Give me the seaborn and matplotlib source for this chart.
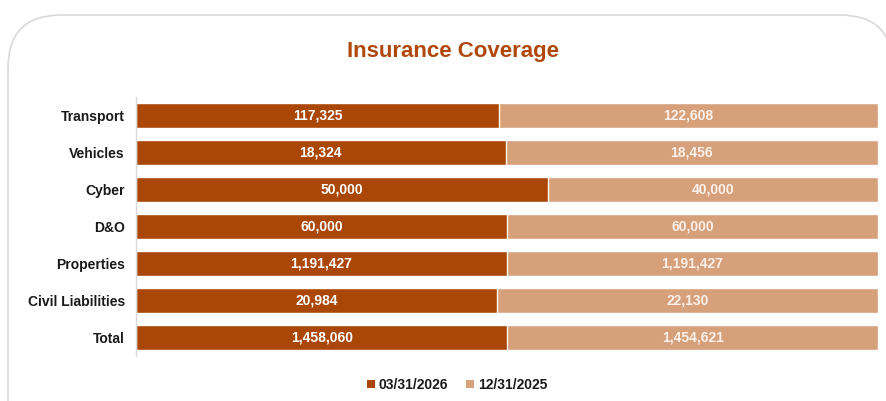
import matplotlib
matplotlib.use("Agg")
import matplotlib.pyplot as plt
from matplotlib.patches import FancyBboxPatch, Patch
import numpy as np
import pandas as pd
import seaborn as sns

categories = ["Transport", "Vehicles", "Cyber", "D&O", "Properties", "Civil Liabilities", "Total"]
mar_2026 = [117325, 18324, 50000, 60000, 1191427, 20984, 1458060]
dec_2025 = [122608, 18456, 40000, 60000, 1191427, 22130, 1454621]
series_names = ["03/31/2026", "12/31/2025"]

DARK = "#AA4707"
LIGHT = "#D6A07A"
TITLE_C = "#B0480C"

sns.set_theme(style="white")
plt.rcParams["font.family"] = ["Liberation Sans", "DejaVu Sans"]

a = np.array(mar_2026, dtype=float)
b = np.array(dec_2025, dtype=float)
share_a = a / (a + b)

df = pd.DataFrame({"category": categories, "full": np.ones(len(categories)), "share": share_a})

fig = plt.figure(figsize=(8.86, 4.01), dpi=100)
fig.patch.set_facecolor("white")

# rounded card behind the chart
card = FancyBboxPatch((8 / 886, -0.2), 885 / 886, 1 - 15 / 401 + 0.2,
                      boxstyle="round,pad=0,rounding_size=0.06",
                      transform=fig.transFigure, facecolor="white",
                      edgecolor="#D9D9D9", linewidth=1.2, zorder=-5,
                      mutation_aspect=886 / 401)
fig.patches.append(card)

ax = fig.add_axes([136 / 886, 1 - 356 / 401, (878 - 136) / 886, 259 / 401])
ax.set_facecolor("none")
ax.set_zorder(2)

# 100% stacked bars: full-width light bar with the dark share on top
sns.barplot(data=df, y="category", x="full", color=LIGHT, orient="h",
            width=0.68, ax=ax, saturation=1)
sns.barplot(data=df, y="category", x="share", color=DARK, orient="h",
            width=0.68, ax=ax, saturation=1)

ax.set_xlim(0, 1)
ax.set_ylim(6.5, -0.5)
ax.set_xlabel("")
ax.set_ylabel("")
ax.set_xticks([])
ax.tick_params(axis="y", length=0, pad=8)
for lbl in ax.get_yticklabels():
    lbl.set_fontweight("bold")
    lbl.set_fontsize(10)
    lbl.set_color("#1A1A1A")

for side in ["top", "right", "bottom"]:
    ax.spines[side].set_visible(False)
ax.spines["left"].set_color("#D9D9D9")
ax.spines["left"].set_linewidth(1)

for i in range(len(categories)):
    s = share_a[i]
    ax.text(s / 2, i, f"{int(a[i]):,}", ha="center", va="center",
            color="white", fontsize=10, fontweight="bold")
    ax.text(s + (1 - s) / 2, i, f"{int(b[i]):,}", ha="center", va="center",
            color="#FBF1EA", fontsize=10, fontweight="bold")

fig.text(0.511, 1 - 52 / 401, "Insurance Coverage", ha="center", va="center",
         fontsize=16, fontweight="bold", color=TITLE_C)

handles = [Patch(facecolor=DARK, edgecolor="none"), Patch(facecolor=LIGHT, edgecolor="none")]
leg = fig.legend(handles, series_names, loc="center", bbox_to_anchor=(0.516, 1 - 385 / 401),
                 ncol=2, frameon=False, handlelength=0.55, handleheight=0.55,
                 handletextpad=0.3, columnspacing=1.3,
                 prop={"weight": "bold", "size": 10})
for t in leg.get_texts():
    t.set_color("#1A1A1A")

fig.savefig("out.png", dpi=100, facecolor="white")
